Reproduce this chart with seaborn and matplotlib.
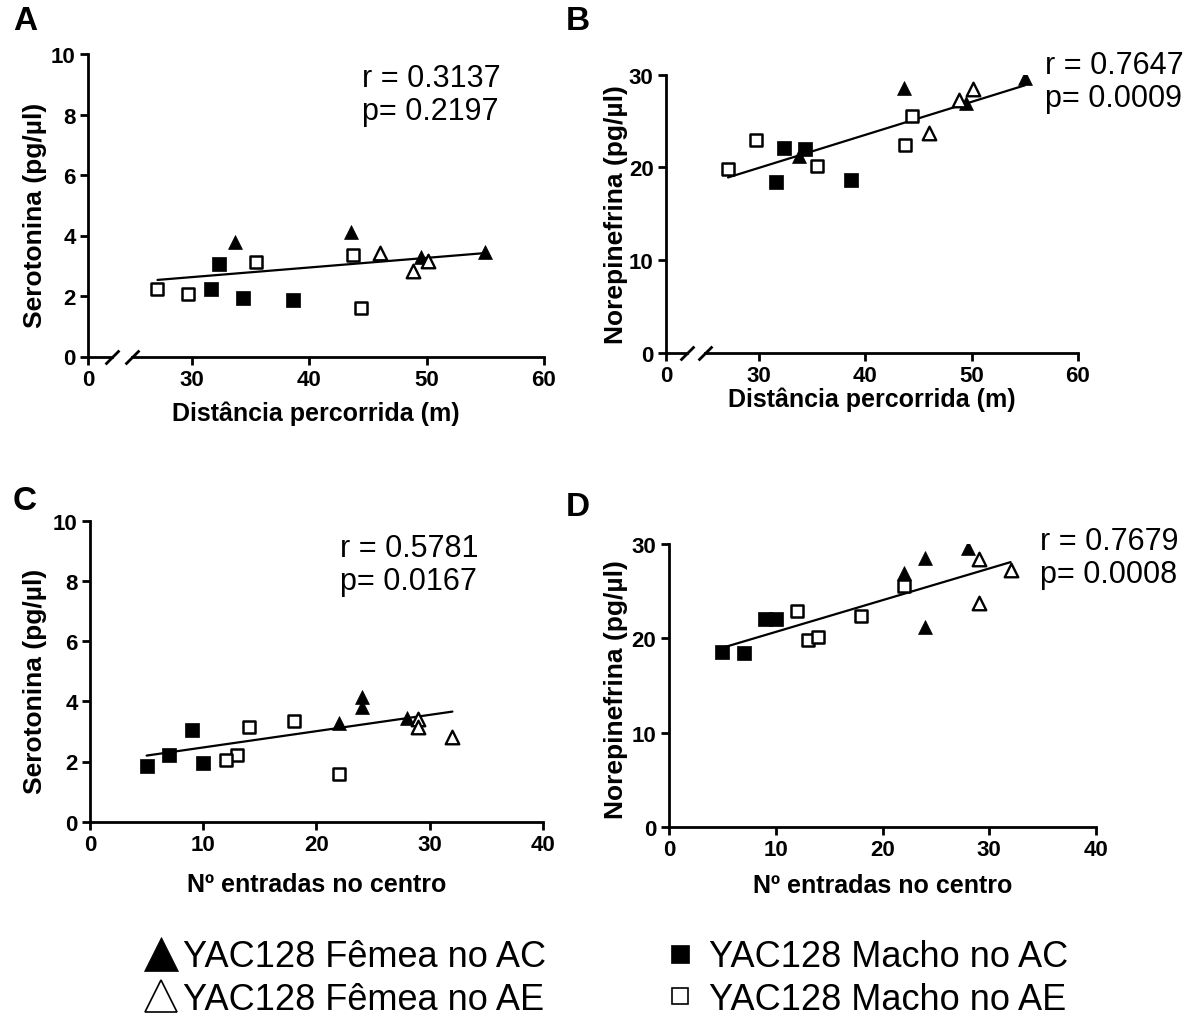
import numpy as np
import pandas as pd
import seaborn as sns
import matplotlib.pyplot as plt
from matplotlib.lines import Line2D

# grupos
groups = ["YAC128 Fêmea no AC", "YAC128 Fêmea no AE",
          "YAC128 Macho no AC", "YAC128 Macho no AE"]

# femea AC (triangulo cheio)
fem_ac_dist = [33.7, 37.15, 43.6, 49.5, 55.0]
fem_ac_entr = [24, 22, 24, 22, 28]
fem_ac_sero = [3.80, 4.57, 4.13, 3.29, 3.45]
fem_ac_nore = [21.2, np.nan, 28.5, 26.9, 29.6]

# femea AE (triangulo vazio)
fem_ae_dist = [46.0, 48.8, 50.1]
fem_ae_entr = [29, 32, 29]
fem_ae_sero = [3.42, 2.81, 3.15]
fem_ae_nore = [23.7, 27.2, 28.4]

# macho AC (quadrado cheio)
mac_ac_dist = [31.6, 32.35, 34.34, 38.65]
mac_ac_entr = [7, 9, 10, 5]
mac_ac_sero = [2.22, 3.05, 1.94, 1.86]
mac_ac_nore = [18.4, 22.1, 22.0, 18.6]

# macho AE (quadrado vazio)
mac_ae_dist = [27.07, 29.66, 35.45, 43.75, 44.4]
mac_ae_entr = [13, 12, 14, 18, 22]
mac_ae_sero = [2.23, 2.06, 3.13, 3.35, 1.60]
mac_ae_nore = [19.8, 22.9, 20.1, 22.4, 25.5]

r_vals = ["0.3137", "0.7647", "0.5781", "0.7679"]
p_vals = ["0.2197", "0.0009", "0.0167", "0.0008"]

W, H = 1191, 1020
BOLD = dict(fontweight="bold")


def rect(l, r, b, t):
    return [l / W, 1 - b / H, (r - l) / W, (b - t) / H]


def build_df():
    parts = []
    cols = [(fem_ac_dist, fem_ac_entr, fem_ac_sero, fem_ac_nore),
            (fem_ae_dist, fem_ae_entr, fem_ae_sero, fem_ae_nore),
            (mac_ac_dist, mac_ac_entr, mac_ac_sero, mac_ac_nore),
            (mac_ae_dist, mac_ae_entr, mac_ae_sero, mac_ae_nore)]
    for g, (d, e, s, n) in zip(groups, cols):
        parts.append(pd.DataFrame({"grupo": g, "dist": d, "entr": e,
                                   "sero": s, "nore": n}))
    return pd.concat(parts, ignore_index=True)


df = build_df()

# marker, face, size, edge width
styles = {
    groups[0]: ("^", "black", 100, 0.5),
    groups[1]: ("^", "white", 95, 1.7),
    groups[2]: ("s", "black", 95, 0.5),
    groups[3]: ("s", "white", 78, 1.8),
}


def draw(ax, xcol, ycol):
    for g in groups:
        mk, fc, s, lw = styles[g]
        sub = df[df.grupo == g].dropna()
        sns.scatterplot(data=sub, x=xcol, y=ycol, marker=mk, s=s, color=fc,
                        edgecolor="black", linewidth=lw, ax=ax, zorder=3)
    sns.regplot(data=df, x=xcol, y=ycol, scatter=False, ci=None, truncate=True,
                color="black", line_kws={"lw": 1.6}, ax=ax)
    ax.set_xlabel("")
    ax.set_ylabel("")


def style(ax):
    for sp in ["top", "right"]:
        ax.spines[sp].set_visible(False)
    for sp in ["left", "bottom"]:
        ax.spines[sp].set_linewidth(2)
        ax.spines[sp].set_color("black")
    ax.tick_params(width=2, length=6, pad=3, colors="black")


def set_ticks(ax, xt, yt):
    ax.set_xticks(xt, [str(v) for v in xt], fontsize=16, **BOLD)
    if yt is not None:
        ax.set_yticks(yt, [str(v) for v in yt], fontsize=16, **BOLD)
    else:
        ax.set_yticks([])


def slash(ax, xpos):
    ax.plot([xpos], [0], transform=ax.transAxes, marker=[(-1, -1), (1, 1)],
            markersize=10, mew=2, color="black", ls="", clip_on=False)


def broken_panel(fig, stub_lr, main_lr, b, t, ycol, ylim, yt, ylabel, ylab_xy, xlab_y):
    stub = fig.add_axes(rect(stub_lr[0], stub_lr[1], b, t))
    main = fig.add_axes(rect(main_lr[0], main_lr[1], b, t))
    draw(main, "dist", ycol)
    for ax in (stub, main):
        style(ax)
        ax.set_ylim(*ylim)
    stub.set_xlim(0, 1)
    main.set_xlim(24.9, 60)
    main.spines["left"].set_visible(False)
    set_ticks(stub, [0], yt)
    set_ticks(main, [30, 40, 50, 60], None)
    slash(stub, 1)
    slash(main, 0)
    stub.set_ylabel(ylabel, fontsize=19, **BOLD)
    stub.yaxis.set_label_coords(*ylab_xy)
    main.set_xlabel("Distância percorrida (m)", fontsize=18, **BOLD)
    mid = ((stub_lr[0] + main_lr[1]) / 2 - main_lr[0]) / (main_lr[1] - main_lr[0])
    main.xaxis.set_label_coords(mid, xlab_y)


def plain_panel(fig, lr, b, t, ycol, ylim, yt, ylabel, ylab_xy, xlab_y):
    ax = fig.add_axes(rect(lr[0], lr[1], b, t))
    draw(ax, "entr", ycol)
    style(ax)
    ax.set_xlim(0, 40)
    ax.set_ylim(*ylim)
    set_ticks(ax, [0, 10, 20, 30, 40], yt)
    ax.set_ylabel(ylabel, fontsize=19, **BOLD)
    ax.yaxis.set_label_coords(*ylab_xy)
    ax.set_xlabel("Nº entradas no centro", fontsize=18, **BOLD)
    ax.xaxis.set_label_coords(0.5, xlab_y)


def main():
    sns.set_style("ticks")
    plt.rcParams["font.family"] = ["Liberation Sans", "DejaVu Sans"]
    plt.rcParams["text.color"] = "black"
    plt.rcParams["axes.labelcolor"] = "black"
    plt.rcParams["xtick.color"] = "black"
    plt.rcParams["ytick.color"] = "black"

    fig = plt.figure(figsize=(W / 100, H / 100), dpi=100)

    sero_lab = "Serotonina (pg/µl)"
    nore_lab = "Norepinefrina (pg/µl)"

    broken_panel(fig, (88, 112), (132, 544), 357.5, 55, "sero", (0, 10),
                 [0, 2, 4, 6, 8, 10], sero_lab, (-1.71, 0.47), -0.147)
    broken_panel(fig, (666, 687), (705, 1078), 353.5, 75.5, "nore", (0, 30),
                 [0, 10, 20, 30], nore_lab, (-1.81, 0.5), -0.124)
    plain_panel(fig, (90, 543), 822.7, 521.7, "sero", (0, 10),
                [0, 2, 4, 6, 8, 10], sero_lab, (-0.095, 0.47), -0.167)
    plain_panel(fig, (669, 1096), 828, 545, "nore", (0, 30),
                [0, 10, 20, 30], nore_lab, (-0.096, 0.49), -0.163)

    # letras dos paineis
    for let, x, y in [("A", 25, 22), ("B", 578, 22), ("C", 25, 502), ("D", 578, 507)]:
        fig.text(x / W, 1 - y / H, let, fontsize=24, ha="center", va="center", **BOLD)

    # r e p
    pos = [(362, 87, 120), (1045, 74, 107), (340, 557, 590), (1040, 550, 583)]
    for (x, yr, yp), r, p in zip(pos, r_vals, p_vals):
        fig.text(x / W, 1 - yr / H, "r = " + r, fontsize=22, va="baseline")
        fig.text(x / W, 1 - yp / H, "p= " + p, fontsize=22, va="baseline")

    # legenda
    h = [Line2D([], [], ls="", marker="^", ms=24, mfc="black", mec="black", mew=0.5),
         Line2D([], [], ls="", marker="^", ms=23, mfc="white", mec="black", mew=1.2),
         Line2D([], [], ls="", marker="s", ms=13, mfc="black", mec="black", mew=0.5),
         Line2D([], [], ls="", marker="s", ms=12, mfc="white", mec="black", mew=1.2)]
    kw = dict(loc="center left", frameon=False, fontsize=26, handlelength=1.0,
              labelspacing=0.2, borderpad=0, borderaxespad=0)
    fig.legend(h[:2], groups[:2], bbox_to_anchor=(143 / W, 1 - 979 / H),
               handletextpad=0.1, **kw)
    fig.legend(h[2:], groups[2:], bbox_to_anchor=(662 / W, 1 - 979 / H),
               handletextpad=0.3, **kw)

    fig.savefig("out.png", dpi=100)


if __name__ == "__main__":
    main()
